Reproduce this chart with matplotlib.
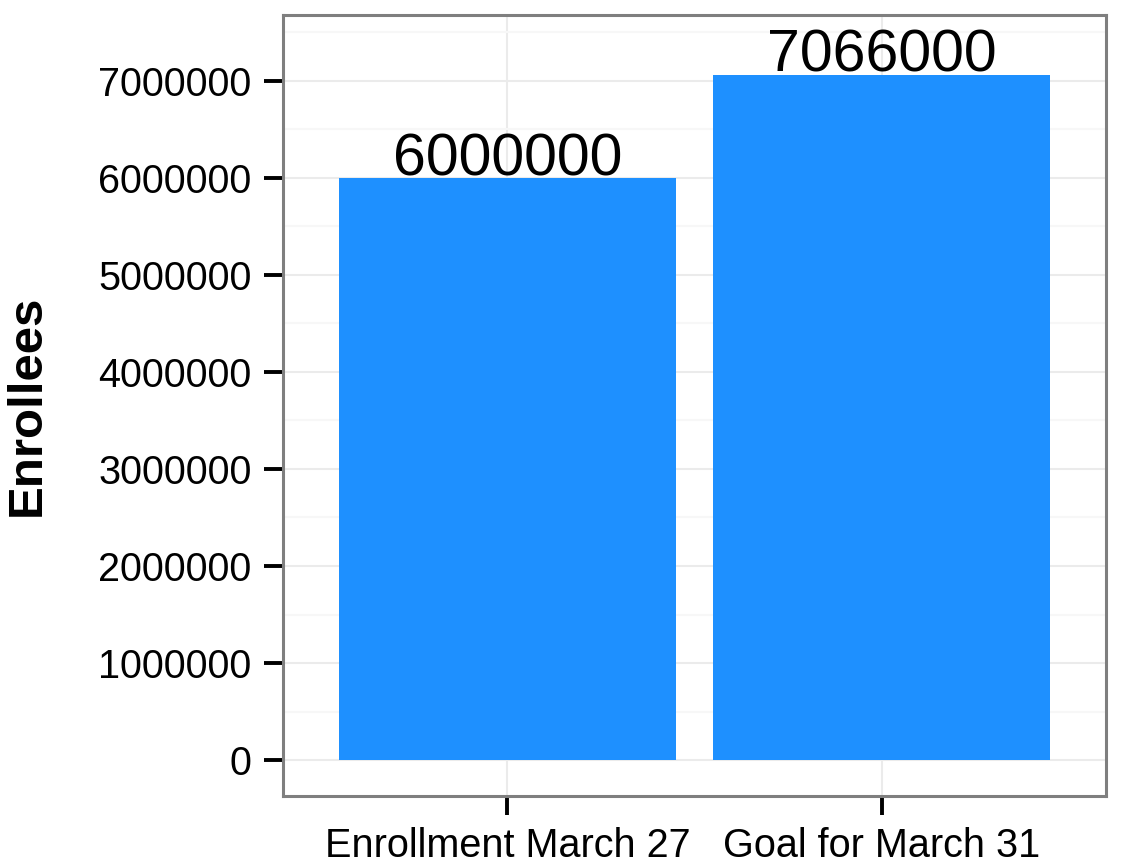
import matplotlib

matplotlib.use("Agg")
import matplotlib.pyplot as plt
from matplotlib.ticker import MultipleLocator, FuncFormatter

categories = ["Enrollment March 27", "Goal for March 31"]
enrollees = [6000000, 7066000]
label_text = ["6000000", "7066000"]

plt.rcParams["font.family"] = ["Liberation Sans", "DejaVu Sans"]

fig = plt.figure(figsize=(11.26, 8.64), dpi=100)
ax = fig.add_axes([283 / 1126, 1 - 796 / 864, (1106 - 283) / 1126, (796 - 15) / 864])

x = list(range(1, len(categories) + 1))
ax.bar(x, enrollees, width=0.9, color="#1E90FF", zorder=2)
for xi, v, t in zip(x, enrollees, label_text):
    ax.text(xi, v + 30000, t, ha="center", va="baseline", fontsize=42.5, color="black", zorder=3)

ax.set_xlim(0.4, 2.6)
ax.set_ylim(-371000, 7680000)
ax.set_xticks(x)
ax.set_xticklabels(categories)
ax.yaxis.set_major_locator(MultipleLocator(1000000))
ax.yaxis.set_minor_locator(MultipleLocator(500000))
ax.yaxis.set_major_formatter(FuncFormatter(lambda v, p: f"{int(round(v))}"))

ax.grid(which="major", color="#EBEBEB", lw=1.5, zorder=0)
ax.grid(which="minor", axis="y", color="#F7F7F7", lw=1.5, zorder=0)
ax.set_axisbelow(True)
ax.tick_params(which="major", length=13.5, width=2.8, color="black", labelsize=28.5, pad=9)
ax.tick_params(which="minor", length=0)
for s in ax.spines.values():
    s.set_color("#7F7F7F")
    s.set_linewidth(2.2)

fig.text(27 / 1126, 1 - 405 / 864, "Enrollees", rotation=90, fontsize=35.5, fontweight="bold",
         ha="center", va="center")

fig.savefig("out.png", dpi=100)
